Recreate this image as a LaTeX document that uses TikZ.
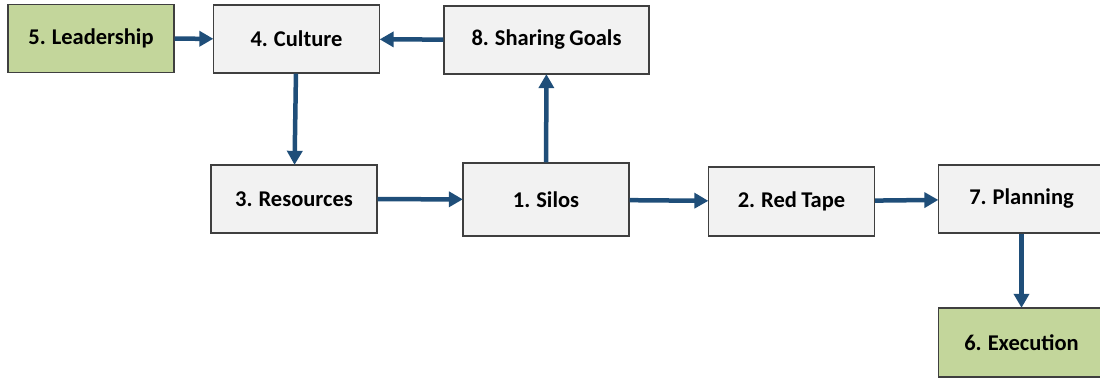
\documentclass[tikz,border=0pt]{standalone}
\usepackage{fontspec}
\setmainfont{Carlito}[WordSpace=0.85]
\usetikzlibrary{arrows.meta}
\definecolor{boxgray}{HTML}{F2F2F2}
\definecolor{boxgreen}{HTML}{C3D69B}
\definecolor{boxline}{HTML}{3F3F3F}
\definecolor{flow}{HTML}{1F4E79}
\tikzset{
  box/.style={draw=boxline, line width=1.3pt, fill=boxgray, minimum width=166pt,
    minimum height=68pt, inner sep=0pt,
    font=\fontsize{22.5}{26}\selectfont\bfseries},
  keybox/.style={box, fill=boxgreen},
  flowarrow/.style={draw=flow, line width=4.5pt,
    -{Triangle[length=14pt,width=15pt]}, shorten >=-0.5pt}
}
\begin{document}
\begin{tikzpicture}[x=1pt,y=-1pt]
  \useasboundingbox (0,0) rectangle (1100,379);
  \clip (0,0) rectangle (1100,379);
  \node[keybox] (lead) at (91,38.5) {5. Leadership};
  \node[box] (cult) at (296.5,39) {4. Culture};
  \node[box, minimum width=205pt] (share) at (546.5,40) {8. Sharing Goals};
  \node[box] (res) at (294,199) {3. Resources};
  \node[box, minimum height=73pt] (silo) at (546,199.5) {1. Silos};
  \node[box, minimum height=69pt] (red) at (791.5,201.5) {2. Red Tape};
  \node[box] (plan) at (1021.5,199) {7. Planning};
  \node[keybox, minimum height=69pt] (exec) at (1021.5,342.5) {6. Execution};

  \draw[flowarrow] (lead) -- (cult);
  \draw[flowarrow] (share) -- (cult);
  \draw[flowarrow] (cult) -- (res);
  \draw[flowarrow] (res) -- (silo);
  \draw[flowarrow] (silo) -- (share);
  \draw[flowarrow] (silo) -- (red);
  \draw[flowarrow] (red) -- (plan);
  \draw[flowarrow] (plan) -- (exec);
\end{tikzpicture}
\end{document}
